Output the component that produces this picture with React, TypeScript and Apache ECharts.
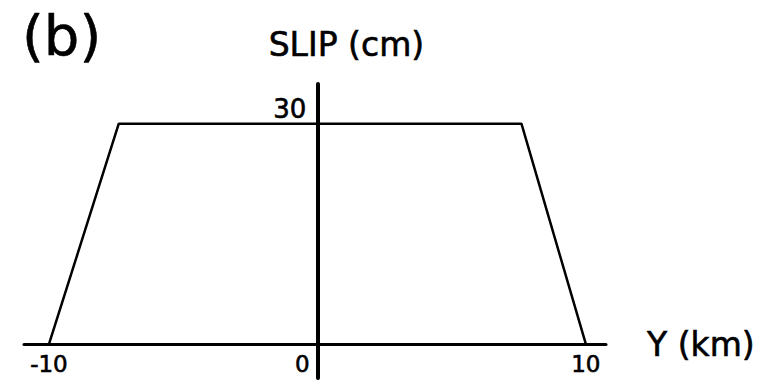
import React, { useEffect, useRef } from "react";
import * as echarts from "echarts";

// Along-strike position (km) and slip (cm) of the trapezoidal slip profile
const alongStrikeKm = [-10, -7.4, 7.6, 10];
const slipCm = [0, 30, 30, 0];

// Tick labels
const xTickValues = [-10, 0, 10];
const yTickValues = [30];

const FONT = "DejaVu Sans";
// a thin outline in the text colour gives the lettering a slightly heavier stroke
const INK = { color: "#000", textBorderColor: "#000", textBorderWidth: 0.6 };

export default function App() {
  const ref = useRef<HTMLDivElement>(null);

  useEffect(() => {
    if (!ref.current) return;
    const chart = echarts.init(ref.current, undefined, { renderer: "svg" });
    chart.setOption({
      animation: false,
      backgroundColor: "#ffffff",
      title: {
        text: "(b)",
        left: 17,
        top: 2,
        textStyle: { fontFamily: FONT, fontSize: 56, fontWeight: "normal", ...INK },
      },
      grid: {
        left: 24,
        right: 176,
        top: 84,
        bottom: 7,
        containLabel: false,
        outerBoundsMode: "none",
      },
      xAxis: {
        type: "value",
        min: -10.93,
        max: 10.75,
        name: "Y (km)",
        nameLocation: "end",
        nameGap: 41,
        nameTextStyle: { fontFamily: FONT, fontSize: 33, verticalAlign: "middle", ...INK },
        axisLine: { show: true, onZero: true, lineStyle: { color: "#000", width: 3 } },
        axisTick: { show: false },
        splitLine: { show: false },
        axisLabel: { show: false },
      },
      yAxis: {
        type: "value",
        min: -4.6,
        max: 35.4,
        name: "SLIP (cm)",
        nameLocation: "end",
        nameGap: 40,
        nameTextStyle: {
          fontFamily: FONT,
          fontSize: 33,
          align: "center",
          verticalAlign: "middle",
          padding: [0, 0, 0, 58],
          ...INK,
        },
        axisLine: { show: true, onZero: true, lineStyle: { color: "#000", width: 4 } },
        axisTick: { show: false },
        splitLine: { show: false },
        axisLabel: { show: false },
      },
      series: [
        {
          type: "line",
          data: alongStrikeKm.map((x, i) => [x, slipCm[i]]),
          symbol: "none",
          lineStyle: { color: "#000", width: 2.5 },
          z: 1,
        },
        // tick labels along the horizontal axis, placed at their axis values
        {
          type: "scatter",
          silent: true,
          symbolSize: 0,
          itemStyle: { opacity: 1 },
          data: xTickValues.map((v) => [v, 0]),
          label: {
            show: true,
            position: "bottom",
            distance: 8,
            fontFamily: FONT,
            fontSize: 23,
            ...INK,
            formatter: (p: any) => String(p.value[0]),
          },
          labelLayout: (p: any) => (p.dataIndex === 1 ? { dx: -15 } : {}),
          emphasis: { disabled: true },
          z: 3,
        },
        // tick label on the slip axis
        {
          type: "scatter",
          silent: true,
          symbolSize: 0,
          itemStyle: { opacity: 1 },
          data: yTickValues.map((v) => [0, v]),
          label: {
            show: true,
            position: "left",
            distance: 11,
            offset: [0, -15],
            fontFamily: FONT,
            fontSize: 26,
            ...INK,
            formatter: (p: any) => String(p.value[1]),
          },
          emphasis: { disabled: true },
          z: 3,
        },
      ],
    });
    return () => chart.dispose();
  }, []);

  return (
    <div
      ref={ref}
      style={{ position: "fixed", left: 0, top: 0, width: 782, height: 385, background: "#fff" }}
    />
  );
}
